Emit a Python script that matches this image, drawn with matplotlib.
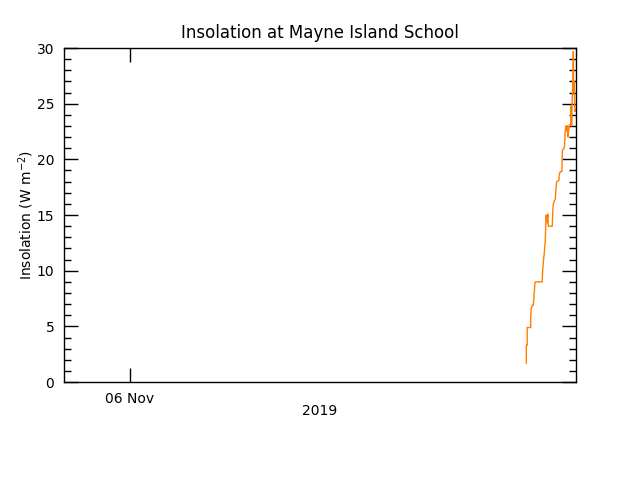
import matplotlib
matplotlib.use("Agg")
import matplotlib.pyplot as plt
import matplotlib.dates as mdates
from matplotlib.ticker import MultipleLocator
import pandas as pd

# --- DATA (UTC on 2019-11-06)
times = ["15:01:00", "15:01:00", "15:03:00", "15:03:00", "15:11:00", "15:11:00",
         "15:12:00", "15:15:00", "15:17:00", "15:19:00", "15:21:00", "15:37:00",
         "15:38:00", "15:40:00", "15:42:00", "15:44:00", "15:46:00", "15:48:00",
         "15:50:00", "15:51:00", "16:00:00", "16:01:00", "16:02:00", "16:05:00",
         "16:07:00", "16:08:00", "16:10:00", "16:15:00", "16:16:00", "16:18:00",
         "16:22:00", "16:23:00", "16:27:00", "16:28:00", "16:29:00", "16:31:00",
         "16:33:00", "16:34:00", "16:35:00", "16:36:00", "16:37:00", "16:39:00",
         "16:42:00", "16:43:00", "16:44:00", "16:45:00", "16:46:00", "16:47:00",
         "16:48:00", "16:48:30", "16:49:00", "16:49:30", "16:50:00", "16:51:00",
         "16:52:00", "16:53:00"]
insolation = [1.7, 3.3, 3.3, 4.9, 4.9, 5.7,
              6.6, 6.9, 6.9, 8.0, 9.0, 9.0,
              9.9, 10.9, 11.6, 12.6, 15.0, 14.3,
              15.1, 14.0, 14.0, 15.0, 15.9, 16.3,
              16.4, 17.1, 18.0, 18.1, 18.6, 18.9,
              18.9, 20.8, 21.0, 21.2, 22.3, 23.0,
              23.0, 22.5, 23.0, 22.0, 22.5, 23.1,
              23.1, 24.8, 23.0, 24.8, 26.3, 27.0,
              29.7, 26.5, 27.0, 26.0, 27.0, 24.8,
              24.3, 24.4]

x_start = "2019-11-05 21:30"
x_end = "2019-11-06 16:54"

t = pd.to_datetime(["2019-11-06 " + s for s in times])

# --- PLOT
fig = plt.figure(figsize=(6.4, 4.8), dpi=100)
ax = fig.add_axes([0.1, 0.204, 0.8, 0.696])

ax.plot(t, insolation, color="#ff7f00", linewidth=1.0)

ax.set_xlim(pd.Timestamp(x_start), pd.Timestamp(x_end))
ax.set_ylim(0, 30)

ax.xaxis.set_major_locator(mdates.DayLocator())
ax.xaxis.set_major_formatter(mdates.DateFormatter("%d %b"))
ax.yaxis.set_major_locator(MultipleLocator(5))
ax.yaxis.set_minor_locator(MultipleLocator(1))

ax.tick_params(which="both", direction="in", top=True, right=True,
               labelsize=10, width=1, pad=7)
ax.tick_params(which="major", length=10)
ax.tick_params(which="minor", length=5)
ax.tick_params(axis="x", pad=7)

for s in ax.spines.values():
    s.set_linewidth(1)

ax.set_title("Insolation at Mayne Island School", fontsize=12, pad=7)
ax.set_ylabel("Insolation (W m$^{-2}$)", fontsize=10)
ax.set_xlabel("2019", fontsize=10)
ax.yaxis.set_label_coords(-0.074, 0.5)
ax.xaxis.set_label_coords(0.5, -0.087)
ax.xaxis.label.set_va("center")
ax.yaxis.label.set_va("center")

fig.savefig("out.png", dpi=100)
